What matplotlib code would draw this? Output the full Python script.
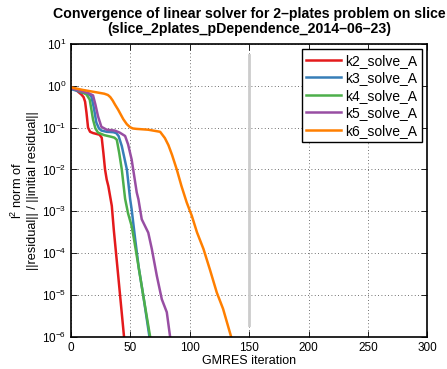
import numpy as np
import matplotlib
matplotlib.use("Agg")
import matplotlib.pyplot as plt

plt.rcParams['font.family'] = ['Liberation Sans', 'DejaVu Sans']
plt.rcParams['mathtext.fontset'] = 'custom'
plt.rcParams['mathtext.rm'] = 'Liberation Sans'
plt.rcParams['mathtext.it'] = 'Liberation Sans:italic'

# values (iteration, log10 of relative residual)
k2_it = [0, 2, 5, 8.7, 10.5, 11.8, 13, 14.3, 16, 18.5, 24, 25.8, 27.2, 28.6, 30, 31.4, 34.3,
         36, 39.9, 44.6]
k2_res = [-0.04, -0.06, -0.12, -0.21, -0.27, -0.38, -0.65, -1.0, -1.1, -1.13, -1.17, -1.24,
          -1.6, -2.0, -2.24, -2.4, -2.87, -3.45, -4.6, -6.0]

k3_it = [0, 5, 10, 14, 17, 19, 21.3, 23.5, 25.5, 30, 35.6, 38, 40, 42.7, 47, 49.7, 51, 54,
         57, 61, 66]
k3_res = [-0.08, -0.12, -0.17, -0.19, -0.25, -0.5, -0.88, -1.02, -1.07, -1.1, -1.11, -1.13,
          -1.2, -1.44, -2.0, -2.7, -2.95, -3.67, -4.35, -5.05, -6.0]

k4_it = [0, 5, 10, 13, 15.7, 17, 18.5, 20.5, 22.7, 28, 34, 36.5, 38.5, 40.5, 42.7, 45.5, 48,
         51, 53, 56.7, 61, 66.6]
k4_res = [-0.05, -0.1, -0.16, -0.21, -0.33, -0.55, -0.81, -1.02, -1.12, -1.18, -1.22, -1.24,
          -1.29, -1.6, -2.0, -2.7, -3.05, -3.35, -3.67, -4.3, -5.05, -6.0]

k5_it = [0, 5, 10, 15, 18.5, 20.5, 22.7, 25.5, 30, 36.8, 41, 45.5, 48, 51, 55.3, 56.7, 59.5,
         65, 68, 72.2, 76.4, 80.6, 83.4]
k5_res = [-0.06, -0.1, -0.14, -0.18, -0.23, -0.45, -0.73, -0.98, -1.05, -1.07, -1.12, -1.2,
          -1.4, -1.76, -2.55, -2.71, -3.19, -3.51, -3.9, -4.54, -5.1, -5.41, -6.0]

k6_it = [0, 10, 20, 28, 31, 33, 35, 37, 39.6, 44, 47, 49.7, 52, 55, 65, 75, 79, 82, 85,
         89, 93, 97.4, 101.7, 106, 111.5, 117, 122.7, 128, 134.8]
k6_res = [-0.04, -0.1, -0.15, -0.19, -0.22, -0.27, -0.35, -0.45, -0.57, -0.8, -0.92, -0.99,
          -1.02, -1.03, -1.05, -1.1, -1.25, -1.42, -1.65, -2.0, -2.4, -2.79, -3.11, -3.5,
          -3.9, -4.4, -4.94, -5.33, -6.0]

labels = ['k2_solve_A', 'k3_solve_A', 'k4_solve_A', 'k5_solve_A', 'k6_solve_A']
colors = ['#e41a1c', '#377eb8', '#4daf4a', '#984ea3', '#ff7f00']
series = [(k2_it, k2_res), (k3_it, k3_res), (k4_it, k4_res), (k5_it, k5_res), (k6_it, k6_res)]

marker_x = 150
marker_y = [5.5, 1.9e-6]

fig = plt.figure(figsize=(4.47, 3.69), dpi=100)
ax = fig.add_axes([0.159, 0.087, 0.797, 0.794])

for (it, r), c, lab in zip(series, colors, labels):
    ax.plot(it, 10.0 ** np.array(r), color=c, lw=1.8, label=lab, solid_joinstyle='round')
ax.plot([marker_x, marker_x], marker_y, color='#cccccc', lw=2)

ax.set_yscale('log')
ax.set_xlim(0, 300)
ax.set_ylim(1e-6, 10)
ax.set_xticks([0, 50, 100, 150, 200, 250, 300])
ax.set_yticks([10.0 ** k for k in range(-6, 2)])
ax.minorticks_off()
ax.tick_params(direction='in', top=True, right=True, labelsize=8.5, length=4, width=0.6)
ax.grid(True, linestyle=(0, (1, 3)), color='#444444', lw=0.6)
for s in ax.spines.values():
    s.set_linewidth(1.2)

ax.set_xlabel('GMRES iteration', fontsize=9, labelpad=1)
ax.set_ylabel('l$^2$ norm of\n||residual|| / ||initial residual||', fontsize=9.2, labelpad=2)
ax.set_title('Convergence of linear solver for 2\u2013plates problem on slice\n'
             '(slice_2plates_pDependence_2014\u201306\u201323)',
             fontsize=10.2, fontweight='bold', pad=7.5, linespacing=1.15)

leg = ax.legend(loc='upper right', fontsize=10, fancybox=False, framealpha=1,
                edgecolor='black', handlelength=2.5, labelspacing=0.25,
                borderaxespad=0.4, handletextpad=0.35, borderpad=0.3)
leg.get_frame().set_linewidth(1.0)

fig.savefig('out.png', dpi=100)
